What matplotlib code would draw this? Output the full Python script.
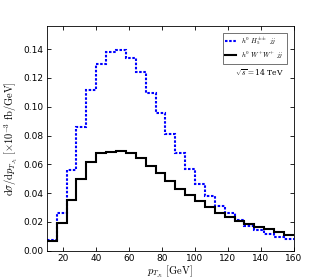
import numpy as np
import matplotlib
matplotlib.use("Agg")
import matplotlib.pyplot as plt

plt.rcParams['mathtext.fontset'] = 'cm'

# bin edges of p_T (GeV), 25 bins of 6 GeV
edges = np.arange(10, 161, 6)

# h0 H5++ jj (blue dotted)
h5_vals = [0.0077, 0.0265, 0.0558, 0.0862, 0.1116, 0.1298, 0.1381, 0.1395, 0.1335, 0.1240,
           0.1093, 0.0958, 0.0812, 0.0679, 0.0567, 0.0465, 0.0381, 0.0312, 0.0262, 0.0214,
           0.0170, 0.0142, 0.0118, 0.0095, 0.0080]
# h0 W+W+ jj (black solid)
ww_vals = [0.0067, 0.0193, 0.0352, 0.0500, 0.0618, 0.0680, 0.0688, 0.0693, 0.0680, 0.0643,
           0.0591, 0.0540, 0.0483, 0.0432, 0.0386, 0.0343, 0.0302, 0.0265, 0.0232, 0.0208,
           0.0189, 0.0168, 0.0150, 0.0130, 0.0108]

fig = plt.figure(figsize=(3.10, 2.79), dpi=100)
ax = fig.add_axes([0.151, 0.101, 0.797, 0.806])

ax.stairs(h5_vals, edges, baseline=None, color='blue', linestyle=(0, (1.2, 0.8)),
          linewidth=1.5, label=r'$h^0\ H_5^{\pm\pm}\ jj$')
ax.stairs(ww_vals, edges, baseline=None, color='black', linestyle='-',
          linewidth=1.5, label=r'$h^0\ W^{+}W^{+}\ jj$')

ax.set_xlim(10, 160)
ax.set_ylim(0, 0.156)
ax.set_xticks([20, 40, 60, 80, 100, 120, 140, 160])
ax.set_yticks([0.0, 0.02, 0.04, 0.06, 0.08, 0.10, 0.12, 0.14])
ax.set_yticklabels(['0.00', '0.02', '0.04', '0.06', '0.08', '0.10', '0.12', '0.14'])
ax.tick_params(direction='in', labelsize=6.5, length=3, width=0.6, top=True, right=True, pad=2.5)
for s in ax.spines.values():
    s.set_linewidth(0.6)

ax.set_xlabel(r'$p_{T_{J_1}}\ [\mathrm{GeV}]$', fontsize=7.5, labelpad=0)
ax.set_ylabel(r'$\mathrm{d}\sigma/\mathrm{d}p_{T_{J_1}}\ [\times 10^{-3}\ \mathrm{fb/GeV}]$',
              fontsize=7.5, labelpad=2)

leg = ax.legend(loc='upper right', fontsize=5, fancybox=False, handlelength=1.5,
                handletextpad=0.8, borderpad=0.4, labelspacing=0.3,
                bbox_to_anchor=(0.985, 0.985))
leg.get_frame().set_edgecolor('#333333')
leg.get_frame().set_linewidth(0.6)

ax.text(0.86, 0.79, r'$\sqrt{s}=$14 TeV', transform=ax.transAxes,
        fontsize=5.5, ha='center', va='center', family='serif')

fig.savefig('out.png', dpi=100)
